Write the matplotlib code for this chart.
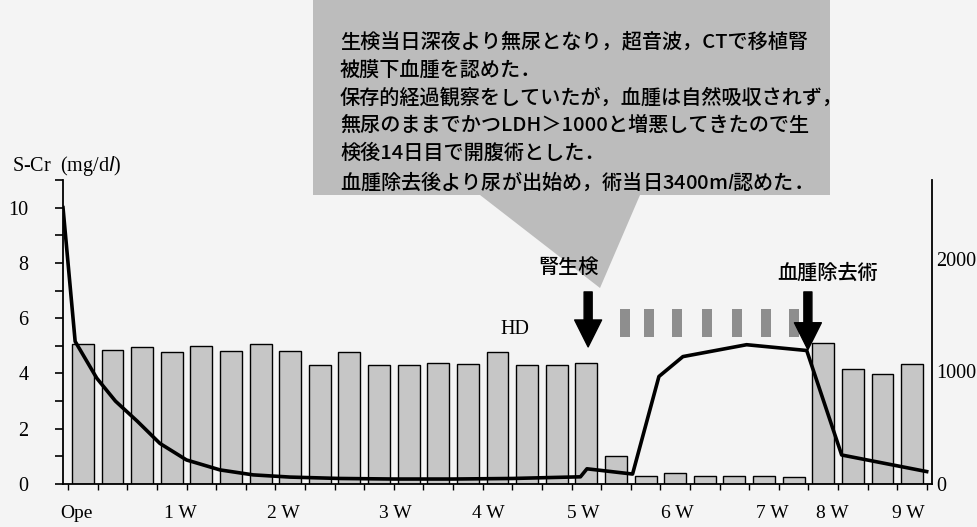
import numpy as np
import matplotlib
matplotlib.use('Agg')
import matplotlib.pyplot as plt
from matplotlib.patches import Polygon

# ---------------- data ----------------
slot = np.arange(29)  # 2-day slots after operation
urine_ml = [1240, 1190, 1215, 1170, 1225, 1185, 1240, 1185, 1060, 1170,
            1055, 1055, 1075, 1065, 1170, 1055, 1055, 1075, 250, 75,
            95, 75, 75, 75, 65, 1255, 1025, 975, 1070]

scr_x = [-0.17, 0.24, 0.97, 1.6, 2.35, 3.1, 4.0, 5.13, 6.25, 7.5, 9.18,
         11.0, 13.0, 15.0, 17.3, 17.52, 19.06, 19.95, 20.76, 22.91, 24.94,
         26.12, 28.99]
scr_mg = [10.0, 5.16, 3.83, 3.0, 2.26, 1.47, 0.87, 0.51, 0.33, 0.25, 0.2,
          0.18, 0.18, 0.2, 0.26, 0.55, 0.36, 3.89, 4.61, 5.04, 4.83,
          1.05, 0.45]

hd_x = [18.8, 19.6, 20.56, 21.56, 22.59, 23.58, 24.5]

week_labels = ['Ope', '1 W', '2 W', '3 W', '4 W', '5 W', '6 W', '7 W', '8 W', '9 W']
week_pos = [0.3, 3.78, 7.26, 11.04, 14.18, 17.39, 20.56, 23.77, 25.79, 28.36]

callout_lines = [
    '生検当日深夜より無尿となり，超音波，CTで移植腎',
    '被膜下血腫を認めた．',
    '保存的経過観察をしていたが，血腫は自然吸収されず，',
    '無尿のままでかつLDH＞1000と増悪してきたので生',
    '検後14日目で開腹術とした．',
    '血腫除去後より尿が出始め，術当日3400m$\\it{l}$認めた．',
]

# ---------------- figure ----------------
W, H = 978, 527
fig = plt.figure(figsize=(W / 100, H / 100), dpi=100)
fig.patch.set_facecolor('#f4f4f4')

serif = ['Liberation Serif', 'Noto Sans CJK JP']
jp = ['Noto Sans CJK JP', 'Liberation Serif']

ax = fig.add_axes([63 / W, 1 - 484 / H, (932 - 63) / W, (484 - 180) / H])
ax2 = ax.twinx()

ax2.bar(slot + 0.5, urine_ml, width=0.74, color='#c6c6c6',
        edgecolor='black', linewidth=1.0)
ax2.set_ylim(0, 2700)
ax2.set_yticks([0, 1000, 2000])
ax2.set_yticklabels(['0', '1000', '2000'], family=serif, fontsize=14.5)
ax2.tick_params(axis='y', length=0, pad=3)
for s in ['top', 'left', 'bottom']:
    ax2.spines[s].set_visible(False)
ax2.spines['right'].set_linewidth(1.3)

ax.set_zorder(ax2.get_zorder() + 1)
ax.patch.set_visible(False)

ax.plot(scr_x, scr_mg, color='black', lw=2.6, solid_joinstyle='round')
ax.bar(hd_x, 1.0, bottom=5.33, width=0.34, color='#8e8e8e')

ax.set_xlim(-0.17, 29.17)
ax.set_ylim(0, 11)
ax.set_yticks(range(0, 12))
ax.set_yticklabels([str(v) if v % 2 == 0 and v <= 10 else '' for v in range(12)],
                   family=serif, fontsize=14.5)
ax.tick_params(axis='y', direction='out', length=6, width=1.2, pad=19)
ax.set_xticks(week_pos)
ax.set_xticklabels(week_labels, family=serif, fontsize=14)
ax.set_xticks(range(0, 30), minor=True)
ax.tick_params(axis='x', which='major', length=0, pad=15)
ax.tick_params(axis='x', which='minor', direction='out', length=4, width=1.0)
ax.spines['top'].set_visible(False)
ax.spines['right'].set_visible(False)
ax.spines['left'].set_linewidth(1.3)
ax.spines['bottom'].set_linewidth(1.3)

# arrows
arrow_kw = dict(arrowstyle='simple,head_length=0.97,head_width=0.97,tail_width=0.29',
                color='black', mutation_scale=20, shrinkA=0, shrinkB=0)
ax.annotate('', xy=(17.56, 4.96), xytext=(17.56, 6.95), arrowprops=arrow_kw)
ax.annotate('', xy=(24.98, 4.86), xytext=(24.98, 6.95), arrowprops=arrow_kw)
ax.text(16.88, 7.83, '腎生検', ha='center', va='center', fontsize=14.5,
        family=jp, weight='medium')
ax.text(25.66, 7.64, '血腫除去術', ha='center', va='center', fontsize=14.5,
        family=jp, weight='medium')
ax.text(15.09, 5.58, 'HD', ha='center', va='center', fontsize=14.5, family=serif)

# y-axis title
fig.text(12 / W, 1 - 166 / H, 'S-Cr  (mg/d$\\it{l}$)', ha='left', va='center',
         fontsize=14.5, family=serif)

# callout
pts = [(313, 0), (830, 0), (830, 195), (640, 195), (600, 288), (480, 195), (313, 195)]
poly = Polygon([(x / W, 1 - y / H) for x, y in pts], closed=True,
               transform=fig.transFigure, facecolor='#bcbcbc', edgecolor='none', zorder=0)
fig.patches.append(poly)
for i, line in enumerate(callout_lines):
    fig.text(340 / W, 1 - (42 + i * 27.8) / H, line, ha='left', va='center',
             fontsize=14.5, family=jp, weight='medium')

fig.savefig('out.png', dpi=100, facecolor=fig.get_facecolor())
